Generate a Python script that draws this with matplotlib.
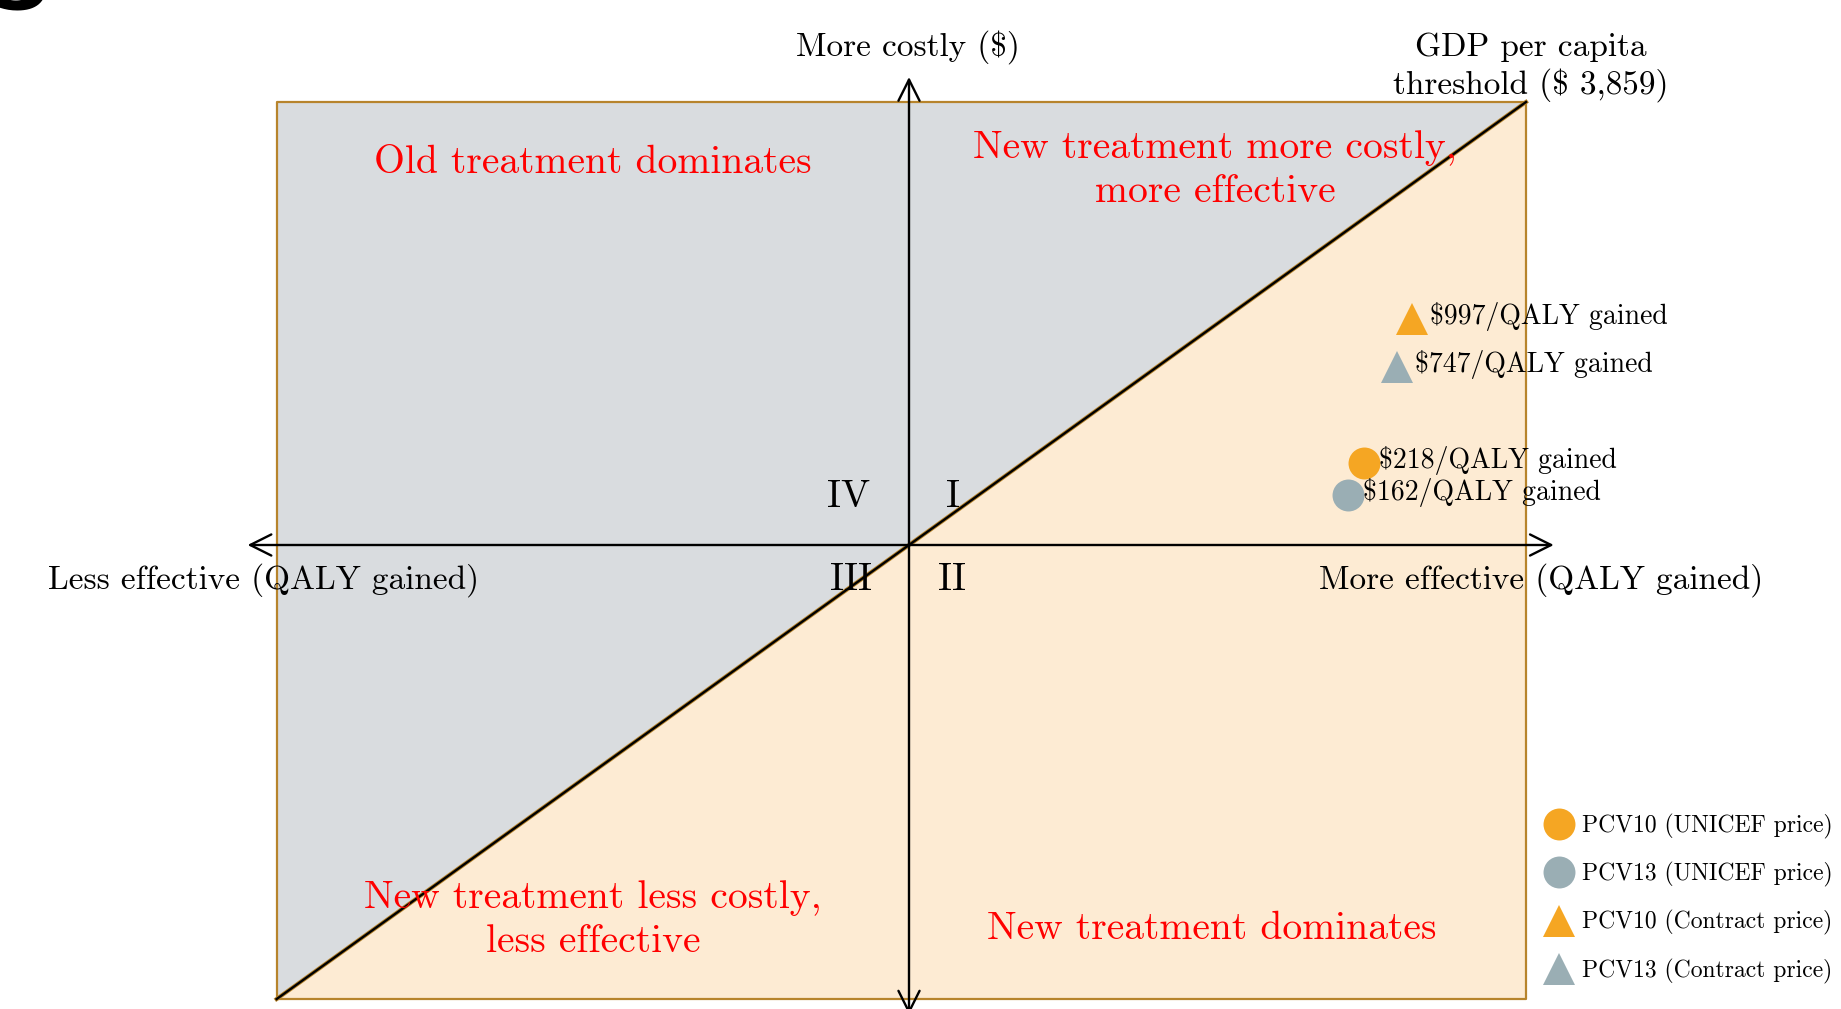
import matplotlib
matplotlib.use("Agg")
import matplotlib.pyplot as plt
from matplotlib.lines import Line2D
from matplotlib.patches import Polygon

plt.rcParams['font.family'] = ['cmr10', 'DejaVu Serif']

# GDP per capita threshold ($/QALY) - slope of the diagonal
threshold = 3859

# points: incremental effect (QALY, schematic) and incremental cost ($, schematic)
series = ["PCV10 (UNICEF price)", "PCV13 (UNICEF price)",
          "PCV10 (Contract price)", "PCV13 (Contract price)"]
effect = [0.737, 0.711, 0.815, 0.791]
cost = [714, 436, 1969, 1551]
icer_labels = ["$218/QALY gained", "$162/QALY gained",
               "$997/QALY gained", "$747/QALY gained"]
markers = ["o", "o", "^", "^"]
colors = ["#F5A623", "#9AAEB4", "#F5A623", "#9AAEB4"]

# plane extent
x_lo, x_hi = -1.025, 1.0
y_lo, y_hi = x_lo * threshold, x_hi * threshold

W, H = 1841, 1009
fig = plt.figure(figsize=(W / 100, H / 100), dpi=100)
ax = fig.add_axes([0, 0, 1, 1])
# origin at pixel (909, 545): 617 px per QALY, 443 px per threshold dollars
ax.set_xlim(-909 / 617, (W - 909) / 617)
ax.set_ylim((545 - H) / 443 * threshold, 545 / 443 * threshold)
ax.axis("off")


def px(x, y):
    return x / W, 1 - y / H


border = "#B7842C"
grey_fill = "#D9DCDF"
orange_fill = "#FDEBD3"

ax.add_patch(Polygon([(x_lo, y_lo), (x_lo, y_hi), (x_hi, y_hi)], closed=True,
                     facecolor=grey_fill, edgecolor="none", zorder=1))
ax.add_patch(Polygon([(x_lo, y_lo), (x_hi, y_lo), (x_hi, y_hi)], closed=True,
                     facecolor=orange_fill, edgecolor="none", zorder=1))
ax.plot([x_lo, x_hi, x_hi, x_lo, x_lo], [y_lo, y_lo, y_hi, y_hi, y_lo],
        color=border, lw=1.6, zorder=2)
ax.plot([x_lo, x_hi], [y_lo, y_hi], color=border, lw=3.0, zorder=2)
ax.plot([x_lo, x_hi], [y_lo, y_hi], color="black", lw=1.7, zorder=3)

# axes arrows
arrow = dict(arrowstyle="<->", color="black", lw=1.7, mutation_scale=38,
             shrinkA=0, shrinkB=0)
ax.annotate("", xy=(x_lo - 0.047, 0), xytext=(1.045, 0), arrowprops=arrow,
            zorder=4)
ax.annotate("", xy=(0, 468 / 443 * threshold), xytext=(0, -1.06 * threshold),
            arrowprops=arrow, zorder=4)

# points
for e, c, m, col in zip(effect, cost, markers, colors):
    ax.plot(e, c, marker=m, markersize=23, color=col, linestyle="none",
            markeredgewidth=0, zorder=5)
for e, c, lab, m in zip(effect, cost, icer_labels, markers):
    ax.annotate(lab, (e, c), xytext=(11 if m == "o" else 13, 2),
                textcoords="offset points", ha="left", va="center",
                fontsize=20, zorder=6)

# legend
handles = [Line2D([], [], marker=m, color=col, linestyle="none",
                  markersize=23, markeredgewidth=0)
           for m, col in zip(markers, colors)]
fig.legend(handles, series, loc="upper left", bbox_to_anchor=px(1532, 802),
           frameon=False, fontsize=17, handletextpad=0.3, labelspacing=0.98,
           borderpad=0, handlelength=1.3)

# labels
fig.text(*px(908, 47), "More costly ($)", ha="center", va="center", fontsize=24)
fig.text(*px(1531, 67), "GDP per capita\nthreshold ($ 3,859)", ha="center",
         va="center", fontsize=24, linespacing=1.25)
fig.text(*px(264, 580), "Less effective (QALY gained)", ha="center",
         va="center", fontsize=24)
fig.text(*px(1541, 580), "More effective (QALY gained)", ha="center",
         va="center", fontsize=24)

for s, (x, y) in zip(["IV", "I", "III", "II"],
                     [(849, 497), (953, 497), (851, 580), (952, 580)]):
    fig.text(*px(x, y), s, ha="center", va="center", fontsize=28)

red = dict(color="#FF0000", ha="center", va="center", fontsize=28.5,
           linespacing=1.3)
fig.text(*px(593, 163), "Old treatment dominates", **red)
fig.text(*px(1215, 170), "New treatment more costly,\nmore effective", **red)
fig.text(*px(593, 920), "New treatment less costly,\nless effective", **red)
fig.text(*px(1212, 929), "New treatment dominates", **red)

# cropped figure tag at the top-left corner
fig.text(*px(-10, -10), "g", ha="left", va="baseline", fontsize=64,
         fontweight="bold", family="DejaVu Sans")

fig.savefig("out.png", dpi=100)
